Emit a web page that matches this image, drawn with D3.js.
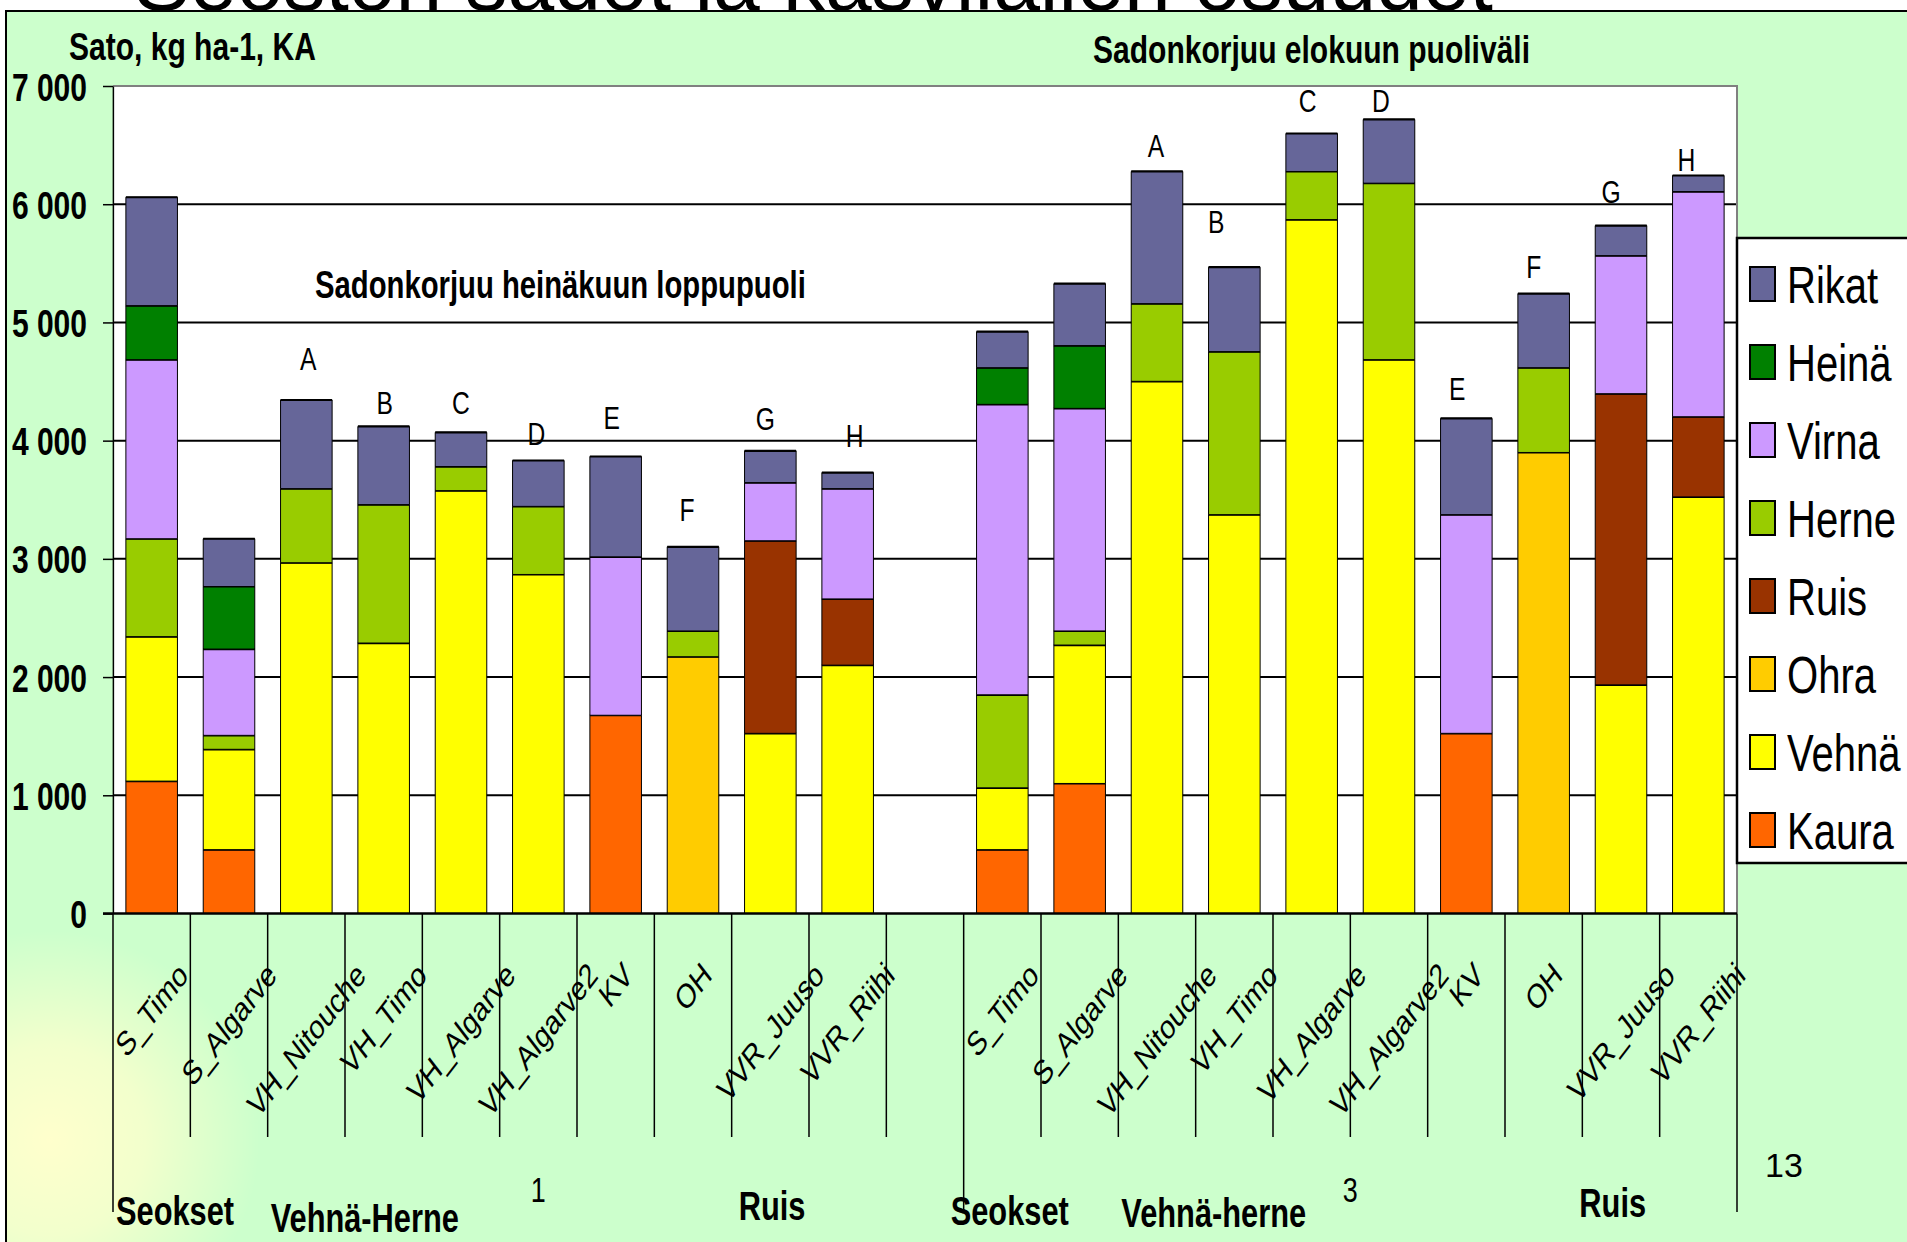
<!DOCTYPE html>
<html>
<head>
<meta charset="utf-8">
<script src="https://cdn.jsdelivr.net/npm/d3@7"></script>
<style>
  html, body { margin: 0; padding: 0; background: #ffffff; }
  svg { display: block; }
  text { font-family: "Liberation Sans", Arial, sans-serif; fill: #000; }
</style>
</head>
<body>
<svg id="chart" width="1907" height="1242"></svg>
<script>
// ---- data -------------------------------------------------------------
// 21 category slots: first harvest (0-9), empty slot (10), second harvest (11-20)
const categories = [
  "S_Timo", "S_Algarve", "VH_Nitouche", "VH_Timo", "VH_Algarve", "VH_Algarve2", "KV", "OH", "VVR_Juuso", "VVR_Riihi",
  "",
  "S_Timo", "S_Algarve", "VH_Nitouche", "VH_Timo", "VH_Algarve", "VH_Algarve2", "KV", "OH", "VVR_Juuso", "VVR_Riihi"
];

// stacking order, bottom to top
const seriesNames = ["Kaura", "Vehnä", "Ohra", "Ruis", "Herne", "Virna", "Heinä", "Rikat"];
const seriesColors = ["#FF6600", "#FFFF00", "#FFCC00", "#993300", "#99CC00", "#CC99FF", "#008000", "#666699"];

// yields, kg ha-1 (dry matter)
const kaura = [1120, 540, 0, 0, 0, 0, 1677, 0, 0, 0, 0, 540, 1100, 0, 0, 0, 0, 1524, 0, 0, 0];
const vehna = [1222, 849, 2967, 2288, 3577, 2868, 0, 0, 1524, 2101, 0, 523, 1171, 4502, 3374, 5870, 4685, 0, 0, 1934, 3524];
const ohra  = [0, 0, 0, 0, 0, 0, 0, 2172, 0, 0, 0, 0, 0, 0, 0, 0, 0, 0, 3900, 0, 0];
const ruis  = [0, 0, 0, 0, 0, 0, 0, 0, 1629, 560, 0, 0, 0, 0, 0, 0, 0, 0, 0, 2463, 678];
const herne = [828, 118, 627, 1171, 204, 576, 0, 218, 0, 0, 0, 787, 119, 657, 1379, 407, 1493, 0, 717, 0, 0];
const virna = [1515, 730, 0, 0, 0, 0, 1340, 0, 492, 933, 0, 2457, 1883, 0, 0, 0, 0, 1850, 0, 1168, 1905];
const heina = [457, 529, 0, 0, 0, 0, 0, 0, 0, 0, 0, 310, 531, 0, 0, 0, 0, 0, 0, 0, 0];
const rikat = [917, 404, 750, 661, 289, 388, 849, 712, 269, 136, 0, 305, 524, 1118, 714, 321, 539, 814, 627, 254, 136];

const yTicks = [0, 1000, 2000, 3000, 4000, 5000, 6000, 7000];

// second axis level: group label, first and last slot
const groupLabels = ["1", "3"];
const groupFrom = [0, 11];
const groupTo = [10, 20];

// sub-group captions and the slot where each starts
const subLabels = ["Seokset", "Vehnä-Herne", "Ruis", "Seokset", "Vehnä-herne", "Ruis"];
const subStart = [0, 2, 8, 11, 13, 19];

// letters over the bars: slot and height (kg ha-1) of the letter baseline
const letters = ["A", "B", "C", "D", "E", "F", "G", "H", "A", "B", "C", "D", "E", "F", "G", "H"];
const letterSlot = [2, 3, 4, 5, 6, 7, 8, 9, 13, 14, 15, 16, 17, 18, 19, 20];
const letterAt = [4600, 4228, 4228, 3966, 4101, 3322, 4093, 3949, 6403, 5760, 6777, 6777, 4346, 5379, 6014, 6277];

// ---- layout -----------------------------------------------------------
const SX = 0.77;               // chart object is horizontally condensed
const X = px => px / SX;       // screen px -> condensed group units
const plot = { left: 113, right: 1737, top: 86, bottom: 913.5 };
// hand-placed caption boxes: horizontal nudge (px) and baseline
const subNudge = [3, 3, 7, -13, 3, -3];
const subBaseline = [1225, 1232, 1220, 1225, 1227, 1217];
const letterNudge = [2, 1, 0, -2, -4, -6, -5, 7, -1, -18, -4, -8, -9, -10, -10, -12];

const svg = d3.select("#chart");
const defs = svg.append("defs");
const glow = defs.append("radialGradient").attr("id", "glow")
  .attr("gradientUnits", "userSpaceOnUse")
  .attr("cx", 50).attr("cy", 1140).attr("r", 210);
glow.append("stop").attr("offset", 0).attr("stop-color", "#FFFFCC").attr("stop-opacity", 1);
glow.append("stop").attr("offset", 0.45).attr("stop-color", "#FFFFCC").attr("stop-opacity", 0.75);
glow.append("stop").attr("offset", 1).attr("stop-color", "#FFFFCC").attr("stop-opacity", 0);

// slide title (mostly above the visible area)
svg.append("text").attr("x", 134).attr("y", 10)
  .style("font-size", "84px")
  .text("Seoston sadot ja kasvilajien osuudet");

// chart panel
svg.append("rect").attr("x", 6).attr("y", 11).attr("width", 1940).attr("height", 1260)
  .attr("fill", "#CCFFCC").attr("stroke", "#000").attr("stroke-width", 2);
svg.append("rect").attr("x", 7).attr("y", 880).attr("width", 400).attr("height", 362)
  .attr("fill", "url(#glow)");

const g = svg.append("g").attr("transform", `scale(${SX},1)`);

const x = d3.scaleBand()
  .domain(d3.range(categories.length))
  .range([X(plot.left), X(plot.right)])
  .paddingInner(1 / 3)
  .paddingOuter(1 / 6);
const step = x.step();
const slotLeft = i => X(plot.left) + i * step;

const y = d3.scaleLinear().domain([0, 7000]).range([plot.bottom, plot.top]);

// plot area
g.append("rect")
  .attr("x", X(plot.left)).attr("y", plot.top)
  .attr("width", X(plot.right) - X(plot.left)).attr("height", plot.bottom - plot.top)
  .attr("fill", "#fff");

// gridlines
g.append("g").selectAll("line")
  .data(yTicks.filter(t => t > 0 && t < 7000))
  .join("line")
  .attr("x1", X(plot.left)).attr("x2", X(plot.right))
  .attr("y1", d => y(d)).attr("y2", d => y(d))
  .attr("stroke", "#000").attr("stroke-width", 2)
  .attr("vector-effect", "non-scaling-stroke");

// plot border (top and right)
g.append("path")
  .attr("d", `M${X(plot.left)},${plot.top}H${X(plot.right)}V${plot.bottom}`)
  .attr("fill", "none").attr("stroke", "#808080").attr("stroke-width", 2)
  .attr("vector-effect", "non-scaling-stroke");

// stacked bars
const table = categories.map((c, i) => ({
  i,
  Kaura: kaura[i], "Vehnä": vehna[i], Ohra: ohra[i], Ruis: ruis[i],
  Herne: herne[i], Virna: virna[i], "Heinä": heina[i], Rikat: rikat[i]
}));
const stacked = d3.stack().keys(seriesNames)(table);

const bars = g.append("g");
stacked.forEach((layer, k) => {
  const segs = layer.filter(d => d[1] - d[0] > 0);
  bars.append("g").selectAll("rect")
    .data(segs)
    .join("rect")
    .attr("x", d => x(d.data.i))
    .attr("width", x.bandwidth())
    .attr("y", d => y(d[1]))
    .attr("height", d => y(d[0]) - y(d[1]))
    .attr("fill", seriesColors[k])
    .attr("stroke", "#000").attr("stroke-width", 1)
    .attr("vector-effect", "non-scaling-stroke");
  bars.append("g").selectAll("line")
    .data(segs)
    .join("line")
    .attr("x1", d => x(d.data.i)).attr("x2", d => x(d.data.i) + x.bandwidth())
    .attr("y1", d => y(d[1])).attr("y2", d => y(d[1]))
    .attr("stroke", "#000").attr("stroke-width", 2.2)
    .attr("vector-effect", "non-scaling-stroke");
});

// y axis
const yAxis = g.append("g")
  .attr("transform", `translate(${X(plot.left)},0)`)
  .call(d3.axisLeft(y)
    .tickValues(yTicks)
    .tickSize(X(10))
    .tickSizeOuter(0)
    .tickPadding(X(16))
    .tickFormat(d => d3.format(",")(d).replace(/,/g, " ")));
yAxis.select(".domain").attr("stroke", "#000").attr("stroke-width", 1.5)
  .attr("vector-effect", "non-scaling-stroke");
yAxis.selectAll(".tick line").attr("stroke", "#000").attr("stroke-width", 1.5)
  .attr("vector-effect", "non-scaling-stroke");
yAxis.selectAll(".tick text")
  .attr("font-family", null).attr("font-size", null)
  .style("font-size", "39px").style("font-weight", "bold")
  .attr("dy", "0.36em");

// zero baseline
g.append("line")
  .attr("x1", X(103)).attr("x2", X(plot.right))
  .attr("y1", plot.bottom).attr("y2", plot.bottom)
  .attr("stroke", "#000").attr("stroke-width", 2.5)
  .attr("vector-effect", "non-scaling-stroke");

// category separators under the axis
const longAt = new Set([...groupFrom, categories.length]);
g.append("g").selectAll("line")
  .data(d3.range(categories.length + 1))
  .join("line")
  .attr("x1", d => slotLeft(d)).attr("x2", d => slotLeft(d))
  .attr("y1", plot.bottom)
  .attr("y2", d => longAt.has(d) ? 1212 : 1137)
  .attr("stroke", "#000").attr("stroke-width", 1.5)
  .attr("vector-effect", "non-scaling-stroke");

// rotated category labels, top edges aligned just under the axis
const catFont = 34;
g.append("g").selectAll("text")
  .data(categories.map((c, i) => ({ c, i })).filter(d => d.c))
  .join("text")
  .style("font-size", catFont + "px")
  .attr("text-anchor", "middle")
  .attr("dominant-baseline", "central")
  .text(d => d.c)
  .each(function (d) {
    const L = this.getComputedTextLength();
    const cx = x(d.i) + x.bandwidth() / 2;
    const cy = 960 + 0.3535 * L + 0.26 * catFont;
    d3.select(this).attr("transform", `translate(${cx},${cy}) rotate(-45)`);
  });

// group labels (second axis level)
g.append("g").selectAll("text")
  .data(groupLabels.map((t, k) => ({ t, k })))
  .join("text")
  .attr("x", d => (slotLeft(groupFrom[d.k]) + slotLeft(groupTo[d.k] + 1)) / 2)
  .attr("y", 1202)
  .attr("text-anchor", "middle")
  .style("font-size", "35px")
  .text(d => d.t);

// sub-group captions
g.append("g").selectAll("text")
  .data(subLabels.map((t, k) => ({ t, k })))
  .join("text")
  .attr("x", d => slotLeft(subStart[d.k]) + X(subNudge[d.k]))
  .attr("y", d => subBaseline[d.k])
  .style("font-size", "40px").style("font-weight", "bold")
  .text(d => d.t);

// letters over the bars
g.append("g").selectAll("text")
  .data(letters.map((t, k) => ({ t, k })))
  .join("text")
  .attr("x", d => x(letterSlot[d.k]) + x.bandwidth() / 2 + X(letterNudge[d.k]))
  .attr("y", d => y(letterAt[d.k]))
  .attr("text-anchor", "middle")
  .style("font-size", "32px")
  .text(d => d.t);

// headings
g.append("text").attr("x", X(69)).attr("y", 60)
  .style("font-size", "39px").style("font-weight", "bold")
  .text("Sato, kg ha-1, KA");
g.append("text").attr("x", X(315)).attr("y", 298)
  .style("font-size", "38px").style("font-weight", "bold")
  .text("Sadonkorjuu heinäkuun loppupuoli");
g.append("text").attr("x", X(1093)).attr("y", 63)
  .style("font-size", "39px").style("font-weight", "bold")
  .text("Sadonkorjuu elokuun puoliväli");

// legend (top entry = top of stack)
const legend = g.append("g");
legend.append("rect")
  .attr("x", X(1737)).attr("y", 238)
  .attr("width", X(1930) - X(1737)).attr("height", 625)
  .attr("fill", "#fff").attr("stroke", "#000").attr("stroke-width", 2.5)
  .attr("vector-effect", "non-scaling-stroke");
const legendOrder = seriesNames.map((n, k) => k).reverse();
const li = legend.selectAll("g.item")
  .data(legendOrder)
  .join("g").attr("class", "item")
  .attr("transform", (k, j) => `translate(0,${284 + j * 78})`);
li.append("rect")
  .attr("x", X(1750)).attr("y", -17)
  .attr("width", X(25)).attr("height", 34)
  .attr("fill", k => seriesColors[k])
  .attr("stroke", "#000").attr("stroke-width", 2)
  .attr("vector-effect", "non-scaling-stroke");
li.append("text")
  .attr("x", X(1787)).attr("y", 18.5)
  .style("font-size", "52px")
  .text(k => seriesNames[k]);

// slide number
svg.append("text").attr("x", 1765).attr("y", 1177)
  .style("font-size", "34px")
  .text("13");
</script>
</body>
</html>
